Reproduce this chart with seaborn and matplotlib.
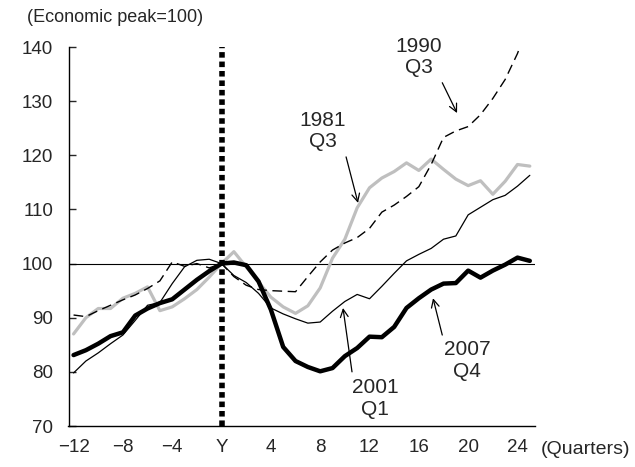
import matplotlib
matplotlib.use("Agg")
import matplotlib.pyplot as plt
import seaborn as sns

# Quarters relative to the economic peak (0 = peak)
quarters = list(range(-12, 26))

# Index, economic peak = 100
peak_1981q3 = [87.0, 90.0, 91.7, 91.7, 93.6, 94.5, 95.7, 91.3, 92.0, 93.5, 95.2, 97.5,
               100.0, 102.2, 99.4, 96.6, 93.8, 92.0, 90.8, 92.2, 95.5, 101.0, 104.5, 110.3,
               114.0, 115.8, 117.0, 118.6, 117.2, 119.3, 117.4, 115.6, 114.4, 115.3, 112.8,
               115.2, 118.3, 118.0]
peak_1990q3 = [90.5, 90.2, 91.3, 92.3, 93.3, 94.2, 95.4, 96.8, 100.3, 99.5, 100.0, 99.2,
               100.0, 97.6, 96.0, 95.2, 95.0, 94.9, 94.8, 97.6, 100.3, 102.5, 103.8, 104.8,
               106.5, 109.5, 110.8, 112.4, 114.2, 118.3, 123.3, 124.5, 125.3, 127.5, 130.5,
               134.0, 138.8, 145.0]
peak_2001q1 = [79.8, 82.0, 83.5, 85.2, 86.8, 89.5, 92.3, 92.8, 96.3, 99.4, 100.6, 100.8,
               100.0, 97.8, 96.5, 94.5, 91.8, 90.7, 89.8, 89.0, 89.2, 91.2, 93.0, 94.3,
               93.5, 95.8, 98.2, 100.5, 101.7, 102.8, 104.5, 105.1, 109.0, 110.4, 111.8,
               112.6, 114.3, 116.3]
peak_2007q4 = [83.1, 84.0, 85.2, 86.6, 87.3, 90.4, 91.7, 92.7, 93.4, 95.2, 97.0, 98.6,
               100.0, 100.2, 99.7, 96.7, 91.5, 84.6, 82.0, 80.9, 80.1, 80.7, 82.9, 84.4,
               86.5, 86.4, 88.3, 91.8, 93.6, 95.2, 96.3, 96.4, 98.7, 97.4, 98.7, 99.8,
               101.1, 100.5]

xtick_pos = [-12, -8, -4, 0, 4, 8, 12, 16, 20, 24]
xtick_labels = ["\u221212", "\u22128", "\u22124", "Y", "4", "8", "12", "16", "20", "24"]
ytick_pos = [70, 80, 90, 100, 110, 120, 130, 140]

sns.set_style("ticks")
plt.rcParams['font.family'] = ['Liberation Sans', 'DejaVu Sans']

fig = plt.figure(figsize=(6.35, 4.67), dpi=100)
ax = fig.add_axes([68.5 / 635, 1 - 426 / 467, (535 - 68.5) / 635, (426 - 47) / 467])

# reference lines
ax.axhline(100, color='black', lw=0.8, zorder=1)
ax.plot([0, 0], [70, 140], color='black', lw=4, linestyle=(0, (1, 0.7)), zorder=5)

# series
sns.lineplot(x=quarters, y=peak_1981q3, ax=ax, color='#bfbfbf', linewidth=2.3, zorder=2)
sns.lineplot(x=quarters, y=peak_1990q3, ax=ax, color='black', linewidth=1.0,
             linestyle=(0, (7, 4)), zorder=3)
sns.lineplot(x=quarters, y=peak_2001q1, ax=ax, color='black', linewidth=0.9, zorder=3)
sns.lineplot(x=quarters, y=peak_2007q4, ax=ax, color='black', linewidth=3.2, zorder=4)

ax.set_xlim(-12.41, 25.42)
ax.set_ylim(70, 140)
ax.set_xticks(xtick_pos)
ax.set_xticklabels(xtick_labels)
ax.set_yticks(ytick_pos)
ax.tick_params(axis='y', direction='in', length=5, width=1, pad=11, labelsize=13.5)
ax.tick_params(axis='x', length=0, pad=9, labelsize=13.5)
for side in ['top', 'right']:
    ax.spines[side].set_visible(False)
for side in ['left', 'bottom']:
    ax.spines[side].set_linewidth(1.0)
    ax.spines[side].set_color('black')
ax.set_xlabel('')
ax.set_ylabel('')

# annotations
arrow = dict(arrowstyle='->', color='black', lw=0.9, shrinkA=0, shrinkB=0, mutation_scale=14)
ax.annotate('', xy=(19.1, 127.8), xytext=(17.9, 133.4), arrowprops=arrow)
ax.annotate('', xy=(11.07, 111.2), xytext=(10.1, 119.7), arrowprops=arrow)
ax.annotate('', xy=(9.85, 91.8), xytext=(10.58, 80.0), arrowprops=arrow)
ax.annotate('', xy=(17.15, 93.6), xytext=(17.9, 86.8), arrowprops=arrow)
ax.text(16.0, 138.1, '1990\nQ3', ha='center', va='center', fontsize=15, linespacing=1.15)
ax.text(8.2, 124.5, '1981\nQ3', ha='center', va='center', fontsize=15, linespacing=1.15)
ax.text(12.45, 75.1, '2001\nQ1', ha='center', va='center', fontsize=15, linespacing=1.25)
ax.text(19.9, 82.1, '2007\nQ4', ha='center', va='center', fontsize=15, linespacing=1.15)

fig.text(27 / 635, 1 - 18 / 467, '(Economic peak=100)', fontsize=13, va='center', ha='left')
fig.text(541 / 635, 1 - 449 / 467, '(Quarters)', fontsize=14, va='center', ha='left')

fig.savefig('out.png', dpi=100)
